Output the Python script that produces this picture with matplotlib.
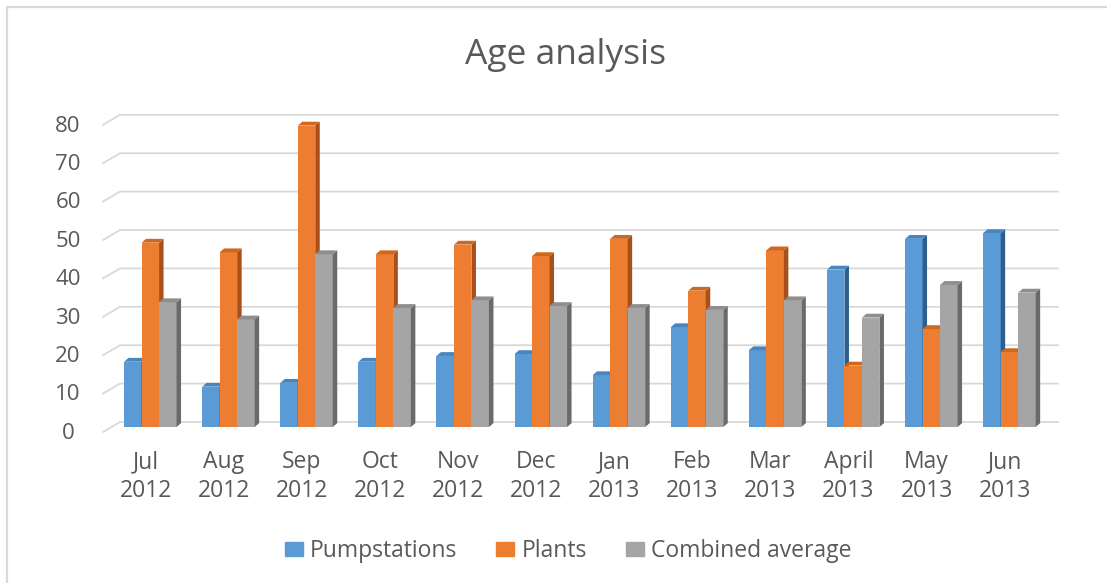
import matplotlib.pyplot as plt
from matplotlib.patches import Polygon, Patch
from matplotlib.lines import Line2D

month_names = ["Jul", "Aug", "Sep", "Oct", "Nov", "Dec",
               "Jan", "Feb", "Mar", "April", "May", "Jun"]
years = ["2012"] * 6 + ["2013"] * 6
pumpstations = [17, 10.5, 11.5, 17, 18.5, 19, 13.5, 26, 20, 41, 49, 50.5]
plants = [48, 45.5, 78.5, 45, 47.5, 44.5, 49, 35.5, 46, 16, 25.5, 19.5]
combined = [32.5, 28, 45, 31, 33, 31.5, 31, 30.5, 33, 28.5, 37, 35]
series_names = ["Pumpstations", "Plants", "Combined average"]
yticks = [0, 10, 20, 30, 40, 50, 60, 70, 80]

front = ["#5B9BD5", "#ED7D31", "#A5A5A5"]
top = ["#4A86BE", "#CF671F", "#8E8E8E"]
side = ["#2C5F8E", "#A9501A", "#6A6A6A"]
text_col = "#595959"
grid_col = "#D9D9D9"

plt.rcParams["font.family"] = ["Open Sans", "DejaVu Sans"]

W, H = 1107, 583
fig = plt.figure(figsize=(W / 100, H / 100), dpi=100)

# pixel layout of the pseudo-3d plot area
cat_px = 78.1      # px per category
x0_px = 150.3      # px of first group centre
base_px = 427      # px of bar front bottom
val_px = 3.84      # px per value unit
ymax = 82

ax = fig.add_axes([100 / W, (H - base_px) / H, 970 / W, ymax * val_px / H])
ax.set_xlim((100 - x0_px) / cat_px, (1070 - x0_px) / cat_px)
ax.set_ylim(0, ymax)
ax.axis("off")

def px2x(px):
    return (px - x0_px) / cat_px

def px2y(px):
    return (base_px - px) / val_px

# back wall gridlines with slanted side-wall piece
wall = 1.3
for v in yticks:
    ax.add_line(Line2D([px2x(103), px2x(120), px2x(1058)],
                       [v - wall, v + wall, v + wall],
                       color=grid_col, lw=1.3, zorder=1, clip_on=False))
    ax.text(px2x(68), v + px2y(438.8), str(v), ha="center", va="baseline",
            fontsize=16, color=text_col)

# bars: front face + top + side
w = 17.5 / cat_px
dx = 4.5 / cat_px
dy = 1.0
for k, vals in enumerate([pumpstations, plants, combined]):
    for i, v in enumerate(vals):
        xl = i + (k - 1) * w - w / 2
        xr = xl + w
        z = 3 + k
        ax.bar(xl, v, width=w, align="edge", color=front[k], zorder=z)
        ax.add_patch(Polygon([(xr, 0), (xr + dx, dy), (xr + dx, v + dy), (xr, v)],
                             closed=True, fc=side[k], ec="none", zorder=z))
        ax.add_patch(Polygon([(xl, v), (xl + dx, v + dy), (xr + dx, v + dy), (xr, v)],
                             closed=True, fc=top[k], ec="none", zorder=z))

for i, (m, yr) in enumerate(zip(month_names, years)):
    ax.text(i - 0.06, px2y(468), m, ha="center", va="baseline",
            fontsize=16.5, color=text_col)
    ax.text(i - 0.06, px2y(497), yr, ha="center", va="baseline",
            fontsize=16.5, color=text_col)

fig.text(566 / W, 1 - 64 / H, "Age analysis", ha="center", va="baseline",
         fontsize=25.5, color=text_col)

handles = [Patch(color=c) for c in front]
fig.legend(handles, series_names, loc="center", bbox_to_anchor=(568 / W, 1 - 551 / H),
           ncol=3, frameon=False, fontsize=16.5, labelcolor=text_col,
           handlelength=0.8, handleheight=0.6, handletextpad=0.3, columnspacing=1.7)

# chart area border (top and left visible)
fig.add_artist(Line2D([7 / W, 7 / W, 1], [0, 1 - 7 / H, 1 - 7 / H],
                      color=grid_col, lw=1.6, transform=fig.transFigure))

fig.savefig("out.png", dpi=100, facecolor="white")
